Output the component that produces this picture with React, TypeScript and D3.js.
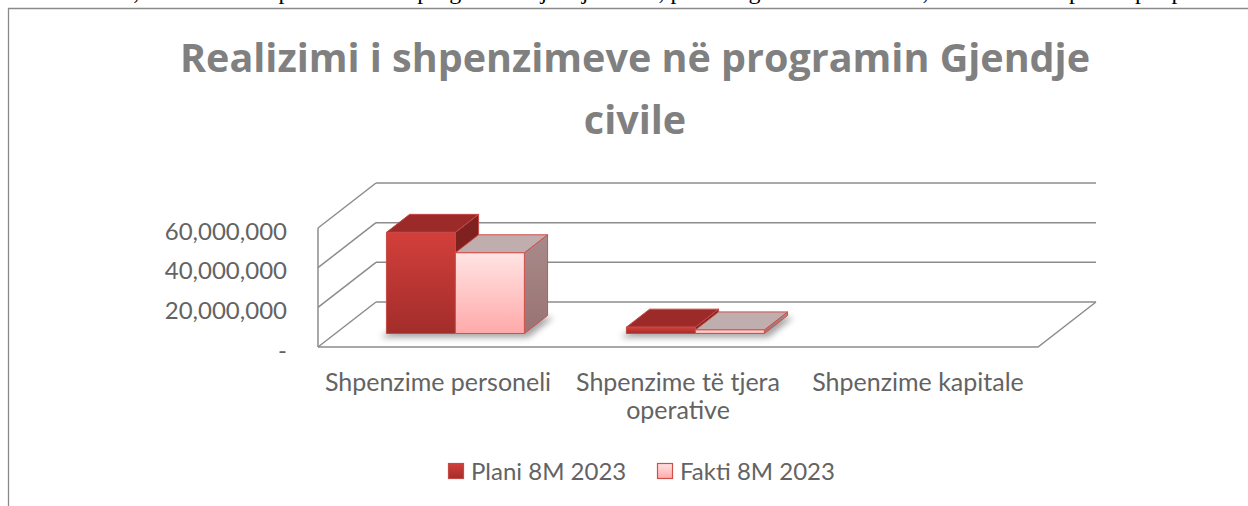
import React from "react";
import * as d3 from "d3";

const categories: string[][] = [
  ["Shpenzime personeli"],
  ["Shpenzime të tjera", "operative"],
  ["Shpenzime kapitale"],
];
const seriesNames = ["Plani 8M 2023", "Fakti 8M 2023"];
const planiValues = [51000000, 3200000, 0];
const faktiValues = [40700000, 1800000, 0];
const yTicks = [0, 20000000, 40000000, 60000000];
const titleLines = ["Realizimi i shpenzimeve në programin Gjendje", "civile"];
const captionText =
  "Grafiku nr. 9, Realizimi i shpenzimeve në programin Gjendje civile, pas kategorive ekonomike, krahasuar me planin për periudhën raportuese";

const W = 1248;
const H = 506;
const DX = 58;
const DY = -45;
const D0 = 0.3;
const D1 = 0.7;

const fmt = (v: number) => (v === 0 ? "-" : d3.format(",")(v));

export default function App() {
  const catKeys = categories.map((c) => c.join(" "));
  const x = d3.scaleBand<string>().domain(catKeys).range([318, 1038]);
  const inner = d3
    .scaleBand<string>()
    .domain(seriesNames)
    .range([0, x.bandwidth()])
    .paddingOuter(0.74);
  const y = d3.scaleLinear().domain([0, 60000000]).range([347, 228]);
  const yMax = 60000000;

  const x0 = 318;
  const x1 = 1038;
  const gridColor = "#8c8c8c";

  const data = [planiValues, faktiValues];

  const bars: any[] = [];
  catKeys.forEach((k, ci) => {
    seriesNames.forEach((s, si) => {
      const v = data[si][ci];
      const bx0 = (x(k) as number) + (inner(s) as number) + DX * D0;
      const bx1 = bx0 + inner.bandwidth();
      const yb = y(0) + DY * D0;
      const yt = y(v) + DY * D0;
      bars.push({ k, s, si, ci, v, bx0, bx1, yb, yt });
    });
  });
  const ddx = DX * (D1 - D0);
  const ddy = DY * (D1 - D0);

  const pts = (p: number[][]) => p.map((q) => q.join(",")).join(" ");

  return (
    <svg
      width={W}
      height={H}
      style={{ position: "absolute", left: 0, top: 0, background: "#fff" }}
      fontFamily="Lato, 'Open Sans', sans-serif"
    >
      <defs>
        <linearGradient id="gPlani" x1="0" y1="0" x2="0" y2="1">
          <stop offset="0" stopColor="#d33f3b" />
          <stop offset="1" stopColor="#a22d2a" />
        </linearGradient>
        <linearGradient id="gFakti" x1="0" y1="0" x2="0" y2="1">
          <stop offset="0" stopColor="#ffe4e4" />
          <stop offset="1" stopColor="#ffa9a9" />
        </linearGradient>
        <linearGradient id="gFaktiSide" x1="0" y1="0" x2="0" y2="1">
          <stop offset="0" stopColor="#a88a8a" />
          <stop offset="1" stopColor="#9a7373" />
        </linearGradient>
        <filter id="blur" x="-20%" y="-50%" width="140%" height="200%">
          <feGaussianBlur stdDeviation="3" />
        </filter>
      </defs>

      {/* clipped caption line from the document above (only its lowest part shows) */}
      <text x={10} y={-1} fontFamily="'Liberation Serif', serif" fontSize={24} fill="#000">
        {captionText}
      </text>

      {/* chart frame */}
      <line x1={8} x2={W} y1={8.5} y2={8.5} stroke="#8a8a8a" strokeWidth={1.3} />
      <line x1={8.5} x2={8.5} y1={8} y2={H} stroke="#8a8a8a" strokeWidth={1.3} />

      {/* title */}
      {titleLines.map((t, i) => (
        <text
          key={i}
          x={635}
          y={72 + i * 62}
          textAnchor="middle"
          fontFamily="'Open Sans', Lato, sans-serif"
          fontWeight="bold"
          fontSize={39.5}
          fill="#808080"
        >
          {t}
        </text>
      ))}

      {/* back wall gridlines */}
      {yTicks.map((t) => (
        <line
          key={"bw" + t}
          x1={x0 + DX}
          x2={x1 + DX}
          y1={y(t) + DY}
          y2={y(t) + DY}
          stroke={gridColor}
          strokeWidth={1.5}
        />
      ))}
      {/* left wall */}
      {yTicks.map((t) => (
        <line
          key={"lw" + t}
          x1={x0}
          x2={x0 + DX}
          y1={y(t)}
          y2={y(t) + DY}
          stroke={gridColor}
          strokeWidth={1.5}
        />
      ))}
      <line x1={x0} x2={x0} y1={y(0)} y2={y(yMax)} stroke={gridColor} strokeWidth={1.5} />
      {/* floor */}
      <polyline
        points={pts([
          [x0, y(0)],
          [x1, y(0)],
          [x1 + DX, y(0) + DY],
        ])}
        fill="none"
        stroke={gridColor}
        strokeWidth={1.5}
      />

      {/* y tick labels */}
      {yTicks.map((t) => (
        <text
          key={"yl" + t}
          x={287}
          y={y(t) + 2}
          textAnchor="end"
          dominantBaseline="central"
          fontSize={24}
          fill="#636363"
        >
          {fmt(t)}
        </text>
      ))}

      {/* shadows */}
      {catKeys.map((k, ci) => {
        const bs = bars.filter((b) => b.ci === ci && b.v > 0);
        if (!bs.length) return null;
        const l = bs[0].bx0;
        const r = bs[bs.length - 1].bx1;
        const yb = bs[0].yb;
        return (
          <polygon
            key={"sh" + k}
            points={pts([
              [l - 6, yb + 4],
              [r + 4, yb + 4],
              [r + ddx + 6, yb + ddy + 2],
              [l + ddx, yb + ddy + 2],
            ])}
            fill="#000"
            opacity={0.35}
            filter="url(#blur)"
          />
        );
      })}

      {/* bars */}
      {bars
        .filter((b) => b.v > 0)
        .map((b) => {
          const isP = b.si === 0;
          const stroke = isP ? "#c44a46" : "#cf4f4b";
          return (
            <g key={b.k + b.s} strokeWidth={1} stroke={stroke} strokeLinejoin="round">
              <polygon
                points={pts([
                  [b.bx1, b.yt],
                  [b.bx1 + ddx, b.yt + ddy],
                  [b.bx1 + ddx, b.yb + ddy],
                  [b.bx1, b.yb],
                ])}
                fill={isP ? "#7f2120" : "url(#gFaktiSide)"}
              />
              <polygon
                points={pts([
                  [b.bx0, b.yt],
                  [b.bx1, b.yt],
                  [b.bx1 + ddx, b.yt + ddy],
                  [b.bx0 + ddx, b.yt + ddy],
                ])}
                fill={isP ? "#9c2a28" : "#c0adad"}
              />
              <rect
                x={b.bx0}
                y={b.yt}
                width={b.bx1 - b.bx0}
                height={b.yb - b.yt}
                fill={isP ? "url(#gPlani)" : "url(#gFakti)"}
              />
            </g>
          );
        })}

      {/* category labels */}
      {categories.map((lines, i) => (
        <text
          key={"cl" + i}
          x={(x(catKeys[i]) as number) + x.bandwidth() / 2}
          y={391}
          textAnchor="middle"
          fontSize={25}
          fill="#636363"
        >
          {lines.map((ln, j) => (
            <tspan key={j} x={(x(catKeys[i]) as number) + x.bandwidth() / 2} dy={j === 0 ? 0 : 28}>
              {ln}
            </tspan>
          ))}
        </text>
      ))}

      {/* legend */}
      {seriesNames.map((s, i) => {
        const lx = i === 0 ? 448 : 657;
        return (
          <g key={"lg" + s}>
            <rect
              x={lx + 0.5}
              y={463.5}
              width={15}
              height={15}
              fill={i === 0 ? "url(#gPlani)" : "url(#gFakti)"}
              stroke={i === 0 ? "#c44a46" : "#cf4f4b"}
              strokeWidth={1.2}
            />
            <text x={lx + 23} y={480} fontSize={24} fill="#636363">
              {s}
            </text>
          </g>
        );
      })}
    </svg>
  );
}
